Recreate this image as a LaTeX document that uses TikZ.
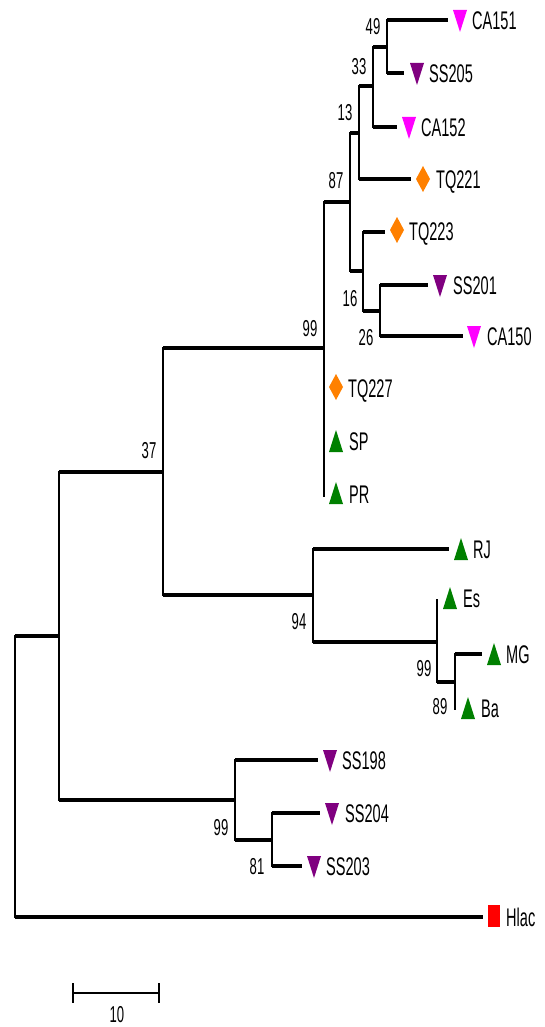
\documentclass[tikz,border=0pt]{standalone}
\usepackage{fontspec}
\newfontfamily\treefont[FakeStretch=0.57]{Liberation Sans}
\definecolor{tmag}{RGB}{255,0,255}
\definecolor{tpur}{RGB}{128,0,128}
\definecolor{tgrn}{RGB}{0,128,0}
\definecolor{torg}{RGB}{255,128,0}
\definecolor{tred}{RGB}{255,0,0}
\begin{document}
\begin{tikzpicture}[x=1pt,y=-1pt,
  hb/.style={line width=3.6pt},
  vb/.style={line width=2.5pt, line cap=rect},
  taxon/.style={font=\treefont\fontsize{25.5}{28}\selectfont, inner sep=0pt, anchor=west, text height=18.3pt, text depth=0pt},
  supp/.style={font=\treefont\fontsize{23}{26}\selectfont, inner sep=0pt, text height=16.5pt, text depth=0pt},
  downtri/.pic={\fill (-7,-10) -- (7,-10) -- (0,12) -- cycle;},
  uptri/.pic={\fill (-7,11) -- (7,11) -- (0,-11) -- cycle;},
  diam/.pic={\fill (0,-13) -- (7,0) -- (0,13) -- (-7,0) -- cycle;},
  sq/.pic={\fill (-6,-11) rectangle (6,11);},
]
\useasboundingbox (0,0) rectangle (545,1027);

% internal nodes (vertical x, branch y)
\coordinate (R) at (15,776);
\coordinate (A) at (59,636);
\coordinate (B) at (163,472);
\coordinate (C) at (324,348);
\coordinate (E) at (350,202);
\coordinate (H) at (359,133);
\coordinate (N33) at (373,86);
\coordinate (N49) at (387,47);
\coordinate (N16) at (363,271);
\coordinate (N26) at (380,311);
\coordinate (D) at (313,595);
\coordinate (F) at (437,642);
\coordinate (G) at (455,682);
\coordinate (S) at (235,800);
\coordinate (T) at (272,840);

% tips (branch ends)
\coordinate (CA151) at (448,20);
\coordinate (SS205) at (404,73);
\coordinate (CA152) at (397,127);
\coordinate (TQ221) at (411,179);
\coordinate (TQ223) at (385,232);
\coordinate (SS201) at (428,285);
\coordinate (CA150) at (463,336);
\coordinate (TQ227) at (324,388);
\coordinate (SP) at (324,441);
\coordinate (PR) at (324,496);
\coordinate (RJ) at (449,549);
\coordinate (Es) at (437,600);
\coordinate (MG) at (482,654);
\coordinate (Ba) at (455,709);
\coordinate (SS198) at (318,760);
\coordinate (SS204) at (320,813);
\coordinate (SS203) at (302,866);
\coordinate (Hlac) at (483,917);

% vertical lines
\draw[vb] (R |- A) -- (R |- Hlac);
\draw[vb] (A |- B) -- (A |- S);
\draw[vb] (B |- C) -- (B |- D);
\draw[vb] (C |- E) -- (C |- PR);
\draw[vb] (E |- H) -- (E |- N16);
\draw[vb] (H |- N33) -- (H |- TQ221);
\draw[vb] (N33 |- N49) -- (N33 |- CA152);
\draw[vb] (N49 |- CA151) -- (N49 |- SS205);
\draw[vb] (N16 |- TQ223) -- (N16 |- N26);
\draw[vb] (N26 |- SS201) -- (N26 |- CA150);
\draw[vb] (D |- RJ) -- (D |- F);
\draw[vb] (F |- Es) -- (F |- G);
\draw[vb] (G |- MG) -- (G |- Ba);
\draw[vb] (S |- SS198) -- (S |- T);
\draw[vb] (T |- SS204) -- (T |- SS203);

% horizontal branches
\draw[hb] (R |- A) -- (A);
\draw[hb] (R |- Hlac) -- (Hlac);
\draw[hb] (A |- B) -- (B);
\draw[hb] (A |- S) -- (S);
\draw[hb] (B |- C) -- (C);
\draw[hb] (B |- D) -- (D);
\draw[hb] (C |- E) -- (E);
\draw[hb] (E |- H) -- (H);
\draw[hb] (E |- N16) -- (N16);
\draw[hb] (H |- N33) -- (N33);
\draw[hb] (H |- TQ221) -- (TQ221);
\draw[hb] (N33 |- N49) -- (N49);
\draw[hb] (N33 |- CA152) -- (CA152);
\draw[hb] (N49 |- CA151) -- (CA151);
\draw[hb] (N49 |- SS205) -- (SS205);
\draw[hb] (N16 |- TQ223) -- (TQ223);
\draw[hb] (N16 |- N26) -- (N26);
\draw[hb] (N26 |- SS201) -- (SS201);
\draw[hb] (N26 |- CA150) -- (CA150);
\draw[hb] (D |- RJ) -- (RJ);
\draw[hb] (D |- F) -- (F);
\draw[hb] (F |- G) -- (G);
\draw[hb] (G |- MG) -- (MG);
\draw[hb] (S |- SS198) -- (SS198);
\draw[hb] (S |- T) -- (T);
\draw[hb] (T |- SS204) -- (SS204);
\draw[hb] (T |- SS203) -- (SS203);

% markers
\pic[color=tmag] at (460,20) {downtri};
\pic[color=tpur] at (417,73) {downtri};
\pic[color=tmag] at (409,127) {downtri};
\pic[color=torg] at (423,179) {diam};
\pic[color=torg] at (397,230) {diam};
\pic[color=tpur] at (440,285) {downtri};
\pic[color=tmag] at (474,336) {downtri};
\pic[color=torg] at (336,387) {diam};
\pic[color=tgrn] at (336,441) {uptri};
\pic[color=tgrn] at (336,493) {uptri};
\pic[color=tgrn] at (461,549) {uptri};
\pic[color=tgrn] at (450,598) {uptri};
\pic[color=tgrn] at (494,654) {uptri};
\pic[color=tgrn] at (468,708) {uptri};
\pic[color=tpur] at (330,760) {downtri};
\pic[color=tpur] at (332,813) {downtri};
\pic[color=tpur] at (314,866) {downtri};
\pic[color=tred] at (494,916) {sq};

% taxon labels
\node[taxon] (lCA151) at (472,20) {CA151};
\node[taxon] (lSS205) at (429,73) {SS205};
\node[taxon] (lCA152) at (421,127) {CA152};
\node[taxon] (lTQ221) at (436,179) {TQ221};
\node[taxon] (lTQ223) at (409,231) {TQ223};
\node[taxon] (lSS201) at (453,285) {SS201};
\node[taxon] (lCA150) at (487,336) {CA150};
\node[taxon] (lTQ227) at (348,388) {TQ227};
\node[taxon] (lSP) at (349,441) {SP};
\node[taxon] (lPR) at (349,494) {PR};
\node[taxon] (lRJ) at (473,549) {RJ};
\node[taxon] (lEs) at (463,598) {Es};
\node[taxon] (lMG) at (506,654) {MG};
\node[taxon] (lBa) at (481,708) {Ba};
\node[taxon] (lSS198) at (342,760) {SS198};
\node[taxon] (lSS204) at (345,813) {SS204};
\node[taxon] (lSS203) at (326,866) {SS203};
\node[taxon] (lHlac) at (506,917) {Hlac};

% bootstrap values
\node[supp] (b49) at (373,26) {49};
\node[supp] (b33) at (359,66) {33};
\node[supp] (b13) at (345,112) {13};
\node[supp] (b87) at (336,180) {87};
\node[supp] (b16) at (350,298) {16};
\node[supp] (b26) at (366,337) {26};
\node[supp] (b99a) at (310,328) {99};
\node[supp] (b37) at (149,450) {37};
\node[supp] (b94) at (299,621) {94};
\node[supp] (b99b) at (424,668) {99};
\node[supp] (b89) at (440,706) {89};
\node[supp] (b99c) at (221,827) {99};
\node[supp] (b81) at (257,866) {81};

% scale bar
\coordinate (s1) at (73,993);
\coordinate (s2) at (159,993);
\coordinate (s1t) at (73,983);
\coordinate (s1b) at (73,1003);
\coordinate (s2t) at (159,983);
\coordinate (s2b) at (159,1003);
\draw[line width=1.8pt] (s1) -- (s2);
\draw[line width=1.2pt] (s1t) -- (s1b);
\draw[line width=1.2pt] (s2t) -- (s2b);
\node[supp] (sc) at (117,1014) {10};
\end{tikzpicture}
\end{document}
